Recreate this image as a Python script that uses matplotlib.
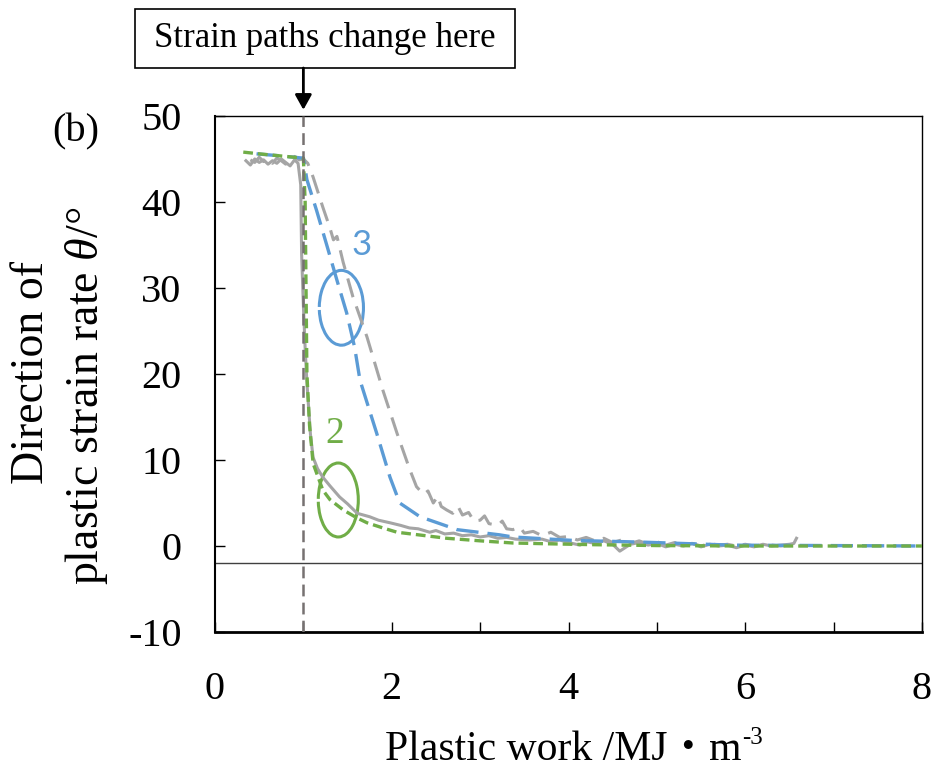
import matplotlib
matplotlib.use('Agg')
import matplotlib.pyplot as plt
from matplotlib.patches import Arc, Rectangle

plt.rcParams['font.family'] = ['Liberation Serif', 'DejaVu Serif', 'Noto Sans CJK JP']
plt.rcParams['mathtext.fontset'] = 'custom'
plt.rcParams['mathtext.rm'] = 'Liberation Serif'
plt.rcParams['mathtext.it'] = 'Liberation Serif:italic'
plt.rcParams['lines.scale_dashes'] = False
plt.rcParams['axes.unicode_minus'] = False

# experiment, path 2 (gray solid)
exp2_x = [0.35, 0.40, 0.45, 0.50, 0.55, 0.60, 0.65, 0.70, 0.75, 0.80, 0.85, 0.90, 0.94,
          0.97, 0.98, 1.00, 1.02, 1.04, 1.08, 1.11, 1.16, 1.22, 1.30, 1.41, 1.50, 1.61,
          1.75, 1.85, 1.98, 2.10, 2.20, 2.30, 2.43, 2.50, 2.60, 2.70, 2.80, 2.90, 3.00,
          3.10, 3.20, 3.30, 3.40, 3.56, 3.70, 3.80, 3.90, 4.00, 4.13, 4.20, 4.30, 4.40,
          4.50, 4.58, 4.70, 4.80, 4.90, 5.00, 5.10, 5.20, 5.30, 5.40, 5.50, 5.60, 5.70,
          5.80, 5.90, 6.00, 6.10, 6.20, 6.30, 6.40, 6.50, 6.55, 6.58]
exp2_y = [44.8, 44.3, 45.0, 44.6, 44.9, 44.4, 44.8, 44.5, 45.0, 44.6, 44.2, 44.9, 44.5,
          42.0, 34.0, 28.0, 23.0, 19.0, 13.0, 10.3, 9.0, 8.0, 7.0, 5.7, 4.9, 3.8,
          3.4, 3.0, 2.7, 2.4, 2.1, 2.0, 1.6, 1.8, 1.4, 1.5, 1.2, 1.3, 1.05,
          1.2, 0.9, 1.0, 0.8, 0.7, 0.8, 0.5, 0.7, 0.4, 0.1, 0.5, 0.3, 0.6,
          0.2, -0.6, 0.2, 0.4, 0.1, 0.3, -0.1, 0.2, 0.0, 0.3, -0.1, 0.2, 0.0,
          0.1, -0.2, 0.1, -0.1, 0.2, 0.0, 0.1, 0.2, 0.3, 0.9]

# experiment, path 3 (gray dashed)
exp3_x = [0.40, 0.45, 0.50, 0.55, 0.60, 0.65, 0.70, 0.75, 0.80, 0.85, 0.90, 0.95, 1.00,
          1.05, 1.11, 1.22, 1.30, 1.34, 1.38, 1.45, 1.56, 1.72, 1.90, 2.06, 2.20, 2.28,
          2.36, 2.41, 2.47, 2.52, 2.56, 2.62, 2.69, 2.75, 2.80, 2.87, 2.93, 3.00, 3.05,
          3.10, 3.20, 3.25, 3.30, 3.37, 3.45, 3.50, 3.60, 3.70, 3.80, 3.90, 4.00, 4.10,
          4.20, 4.30, 4.40, 4.50, 4.60, 4.70, 4.80, 4.90, 5.00, 5.10, 5.20, 5.30, 5.40,
          5.50, 5.60, 5.70, 5.80, 5.90, 6.00, 6.10, 6.20, 6.30, 6.40, 6.50]
exp3_y = [44.9, 44.6, 45.2, 44.7, 45.0, 44.5, 45.1, 44.8, 44.4, 45.0, 45.3, 44.9, 45.0,
          44.5, 42.9, 39.4, 37.0, 35.6, 36.0, 33.0, 29.0, 24.3, 18.1, 13.1, 9.0, 6.9,
          6.0, 6.4, 5.0, 5.8, 4.6, 4.2, 3.8, 4.6, 3.6, 3.9, 2.9, 3.0, 3.5,
          2.6, 2.4, 2.9, 2.0, 1.9, 2.2, 1.5, 1.7, 1.2, 1.6, 1.0, 1.1, 0.7,
          1.0, 0.6, 0.9, 0.4, 0.7, 0.3, 0.6, 0.2, 0.5, 0.1, 0.4, 0.2, 0.3,
          0.0, 0.3, 0.1, 0.2, 0.0, 0.2, 0.0, 0.1, 0.1, 0.0, 0.1]

# model, path 3 (blue)
mod3_x = [0.47, 0.70, 0.90, 1.00, 1.04, 1.15, 1.27, 1.38, 1.49, 1.58, 1.64, 1.83, 1.98,
          2.09, 2.32, 2.74, 3.22, 3.37, 4.05, 4.84, 5.86, 7.00, 8.00]
mod3_y = [45.6, 45.4, 45.2, 45.1, 42.6, 39.0, 34.8, 30.9, 27.1, 23.1, 19.3, 13.1, 8.0,
          5.0, 3.4, 1.9, 1.3, 1.05, 0.65, 0.45, 0.1, 0.05, 0.0]

# model, path 2 (green)
mod2_x = [0.32, 0.50, 0.70, 0.90, 1.00, 1.02, 1.03, 1.04, 1.07, 1.11, 1.22, 1.30, 1.45,
          1.60, 1.72, 1.90, 2.06, 2.30, 2.62, 3.00, 3.37, 3.80, 4.30, 5.00, 6.00, 7.00, 8.00]
mod2_y = [45.8, 45.6, 45.4, 45.2, 45.1, 40.0, 30.0, 20.0, 14.0, 9.6, 6.5, 5.4, 4.2,
          3.3, 2.7, 2.1, 1.6, 1.3, 0.9, 0.6, 0.35, 0.25, 0.15, 0.05, 0.0, 0.0, 0.0]

x_ticks = [0, 2, 4, 6, 8]
y_ticks = [-10, 0, 10, 20, 30, 40, 50]

blue = '#5B9BD5'
green = '#70AD47'
gray = '#A5A5A5'

W, H = 939, 771
fig = plt.figure(figsize=(W/100, H/100), dpi=100)
ax = fig.add_axes([215/W, 1-632/H, 707/W, 516/H])

ax.plot(exp2_x, exp2_y, color=gray, lw=2.2, zorder=2)
ax.plot(exp3_x, exp3_y, color=gray, lw=2.2, dashes=(14, 7), zorder=2)
ax.plot(mod3_x, mod3_y, color=blue, lw=2.4, dashes=(16, 6.5), zorder=3)
ax.plot(mod2_x, mod2_y, color=green, lw=2.4, dashes=(7, 3.6), zorder=4)

ax.axvline(1.0, color='#767171', lw=1.8, dashes=(8.5, 4.5), zorder=5)
ax.axhline(-2.0, color='#404040', lw=1.0, zorder=1)

# ellipses marking the curve pairs
ax.add_patch(Arc((1.43, 27.7), 0.50, 8.7, theta1=226, theta2=159, color=blue, lw=2.2))
ax.add_patch(Arc((1.395, 5.35), 0.453, 8.6, theta1=222, theta2=150, color=green, lw=2.2))
ax.text(1.66, 35.0, '3', color=blue, fontsize=25, family='Lato', ha='center', va='center')
ax.text(1.36, 13.0, '2', color=green, fontsize=27, ha='center', va='center')

ax.set_xlim(0, 8)
ax.set_ylim(-10, 50)
ax.set_xticks(x_ticks)
ax.set_xticks([1, 3, 5, 7], minor=True)
ax.set_yticks(y_ticks)
ax.tick_params(which='both', direction='in', length=7, width=1, labelsize=29)
ax.tick_params(axis='x', pad=28)
ax.tick_params(axis='y', pad=24)
for s in ['top', 'right']:
    ax.spines[s].set_linewidth(1.0)
ax.spines['left'].set_linewidth(1.5)
ax.spines['bottom'].set_linewidth(2.0)

# y label, two lines
fig.text(43/W, 1-372/H, 'Direction of', fontsize=33, rotation=90,
         rotation_mode='anchor', ha='center', va='baseline')
fig.text(98/W, 1-396/H, 'plastic strain rate $\\theta$/°', fontsize=33, rotation=90,
         rotation_mode='anchor', ha='center', va='baseline')

# x label with a small raised exponent
xl = fig.text(385/W, 11/H, 'Plastic work /MJ\u30fbm', fontsize=30,
              ha='left', va='baseline')
fig.canvas.draw()
bb = xl.get_window_extent()
fig.text(bb.x1/W + 1/W, 27/H, '-3', fontsize=18, ha='left', va='baseline')

fig.text(76/W, 1-132/H, '(b)', fontsize=29, ha='center', va='center')
fig.patches.append(Rectangle((135/W, 1-68/H), 380/W, 59/H, transform=fig.transFigure,
                             fill=False, ec='black', lw=1.2))
fig.text(325/W, 1-38.5/H, 'Strain paths change here', fontsize=25,
         ha='center', va='center')
ax.annotate('', xy=(1.0, 1.012), xycoords=('data', 'axes fraction'),
            xytext=(1.0, 1.093), textcoords=('data', 'axes fraction'),
            arrowprops=dict(arrowstyle='-|>,head_width=0.5,head_length=0.9',
                            color='black', lw=2.0, shrinkA=0, shrinkB=0),
            annotation_clip=False)

fig.savefig('out.png', dpi=100)
